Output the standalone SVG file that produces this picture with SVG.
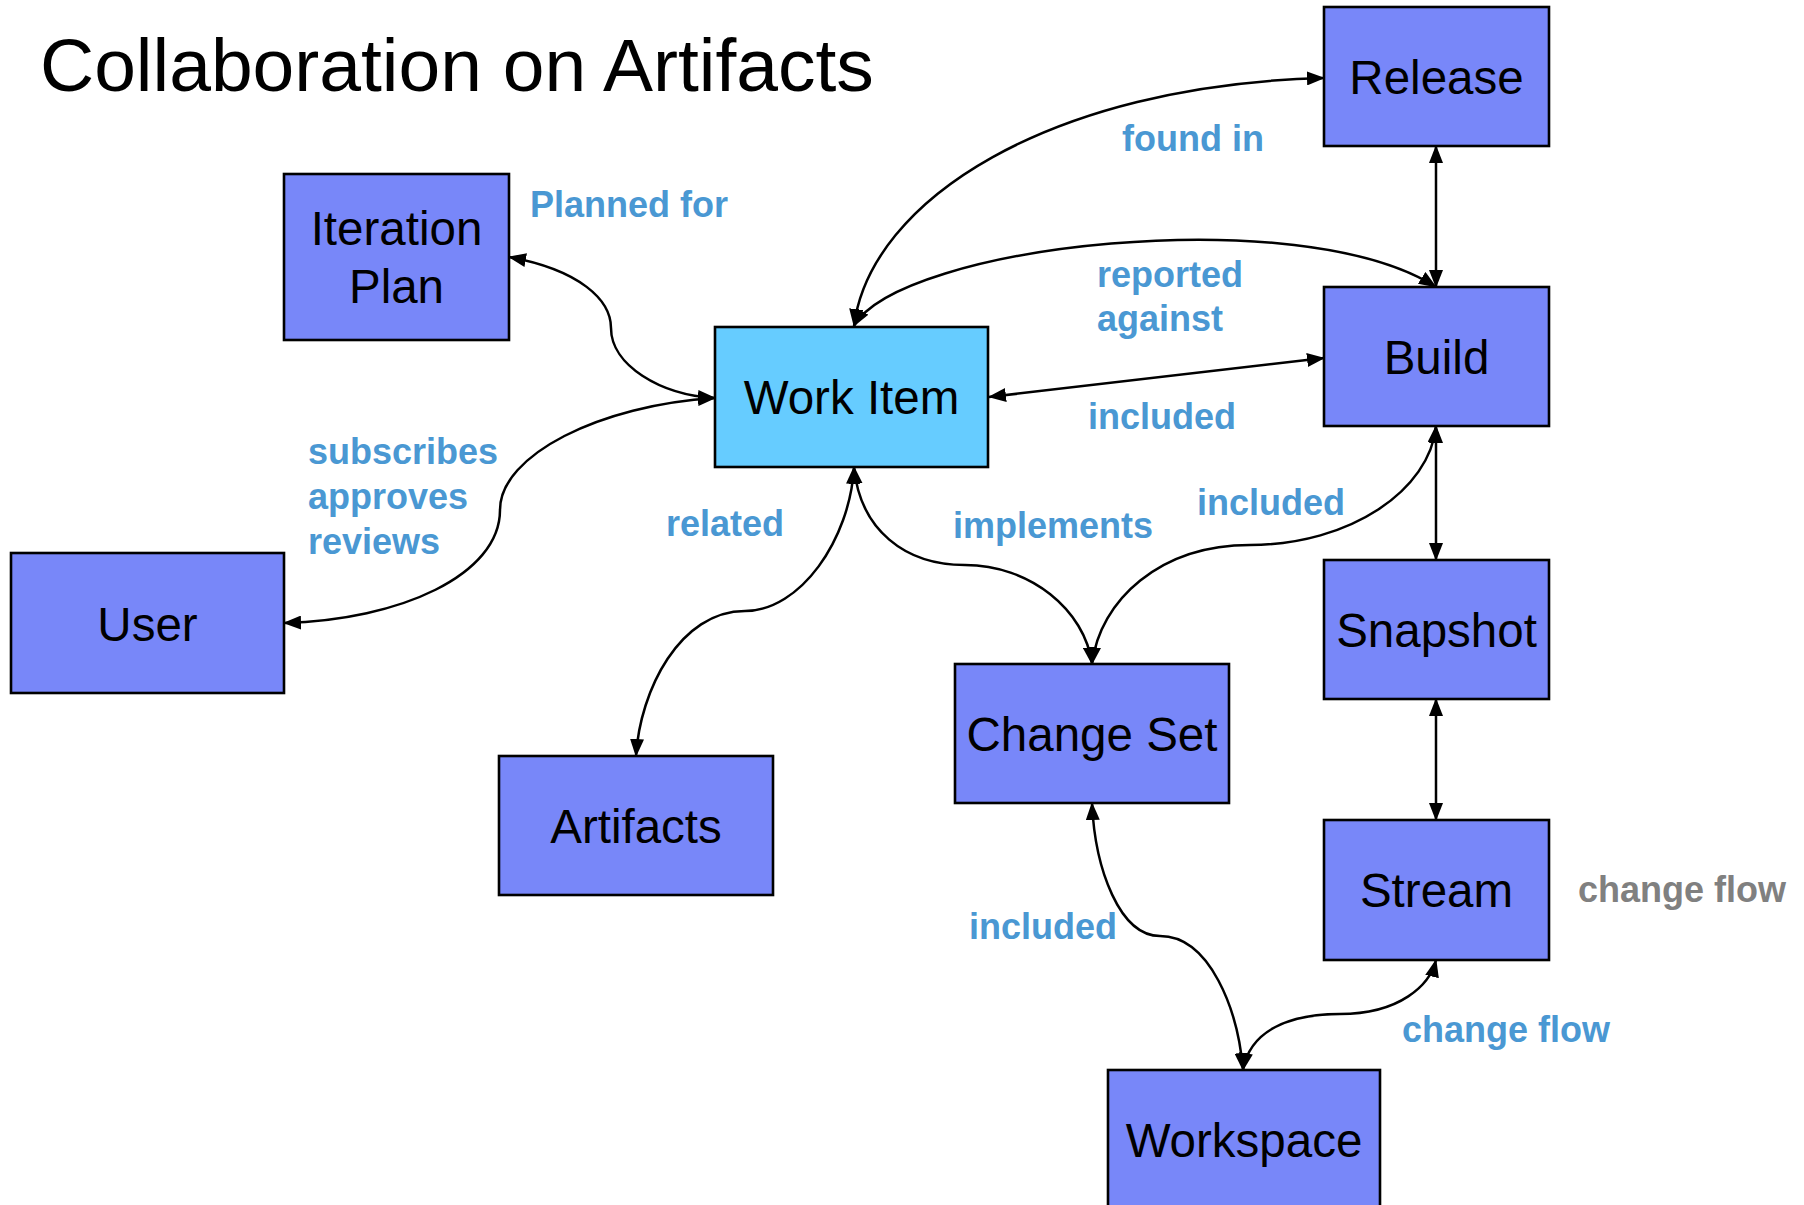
<svg xmlns="http://www.w3.org/2000/svg" width="1804" height="1205" viewBox="0 0 1804 1205">
<defs>
<style>
.box{fill:#7887F9;stroke:#000;stroke-width:2.6}
.wi{fill:#66CCFF;stroke:#000;stroke-width:2.6}
.nt{font-family:"Liberation Sans",Arial,sans-serif;font-size:47.5px;fill:#000;text-anchor:middle}
.lb{font-family:"Liberation Sans",Arial,sans-serif;font-size:36px;font-weight:bold;fill:#4A98D3}
.lg{font-family:"Liberation Sans",Arial,sans-serif;font-size:36px;font-weight:bold;fill:#808080}
.title{font-family:"Liberation Sans",Arial,sans-serif;font-size:75px;fill:#000}
.c{fill:none;stroke:#000;stroke-width:2.5;marker-start:url(#ah);marker-end:url(#ah)}
</style>
<marker id="ah" markerUnits="userSpaceOnUse" markerWidth="18" markerHeight="14" refX="17" refY="7" orient="auto-start-reverse">
<path d="M0,0 L18,7 L0,14 z" fill="#000"/>
</marker>
</defs>
<rect width="1804" height="1205" fill="#fff"/>
<text class="title" x="40" y="91">Collaboration on Artifacts</text>

<g id="connectors">
<path class="c" d="M509,257 C580,270 611,300 611,328 C611,365 660,395 715,398"/>
<path class="c" d="M715,398 C600,405 500,455 500,510 C500,575 400,620 284,623"/>
<path class="c" d="M854,326 C870,200 1050,85 1324,78"/>
<path class="c" d="M854,326 C900,245 1300,200 1436,287"/>
<path class="c" d="M1436,146 L1436,287"/>
<path class="c" d="M989,397 L1324,358"/>
<path class="c" d="M1436,426 L1436,560"/>
<path class="c" d="M1436,699 L1436,820"/>
<path class="c" d="M854,467 C860,530 905,565 965,565 C1030,565 1085,610 1092,664"/>
<path class="c" d="M1092,664 C1100,600 1160,545 1250,545 C1350,545 1430,490 1436,426"/>
<path class="c" d="M854,467 C850,540 800,611 745,611 C680,611 640,690 636,756"/>
<path class="c" d="M1092,803 C1095,870 1120,936 1160,936 C1210,936 1238,1010 1243,1070"/>
<path class="c" d="M1243,1070 C1250,1030 1290,1014 1340,1014 C1400,1014 1430,985 1436,960"/>
</g>

<g id="release"><rect class="box" x="1324" y="7" width="225" height="139"/><text class="nt" x="1436.5" y="94">Release</text></g>
<g id="iteration-plan"><rect class="box" x="284" y="174" width="225" height="166"/><text class="nt" x="396.5" y="245">Iteration</text><text class="nt" x="396.5" y="303">Plan</text></g>
<g id="work-item"><rect class="wi" x="715" y="327" width="273" height="140"/><text class="nt" x="851.5" y="414">Work Item</text></g>
<g id="build"><rect class="box" x="1324" y="287" width="225" height="139"/><text class="nt" x="1436.5" y="374">Build</text></g>
<g id="user"><rect class="box" x="11" y="553" width="273" height="140"/><text class="nt" x="147.5" y="641">User</text></g>
<g id="snapshot"><rect class="box" x="1324" y="560" width="225" height="139"/><text class="nt" x="1436.5" y="647">Snapshot</text></g>
<g id="change-set"><rect class="box" x="955" y="664" width="274" height="139"/><text class="nt" x="1092" y="751">Change Set</text></g>
<g id="artifacts"><rect class="box" x="499" y="756" width="274" height="139"/><text class="nt" x="636" y="843">Artifacts</text></g>
<g id="stream"><rect class="box" x="1324" y="820" width="225" height="140"/><text class="nt" x="1436.5" y="907">Stream</text></g>
<g id="workspace"><rect class="box" x="1108" y="1070" width="272" height="160"/><text class="nt" x="1244" y="1157">Workspace</text></g>

<g id="labels">
<text class="lb" x="530" y="217">Planned for</text>
<text class="lb" x="1122" y="151">found in</text>
<text class="lb" x="1097" y="287">reported</text>
<text class="lb" x="1097" y="331">against</text>
<text class="lb" x="1088" y="429">included</text>
<text class="lb" x="1197" y="515">included</text>
<text class="lb" x="953" y="538">implements</text>
<text class="lb" x="666" y="536">related</text>
<text class="lb" x="308" y="464">subscribes</text>
<text class="lb" x="308" y="509">approves</text>
<text class="lb" x="308" y="554">reviews</text>
<text class="lb" x="969" y="939">included</text>
<text class="lb" x="1402" y="1042">change flow</text>
<text class="lg" x="1578" y="902">change flow</text>
</g>
</svg>
